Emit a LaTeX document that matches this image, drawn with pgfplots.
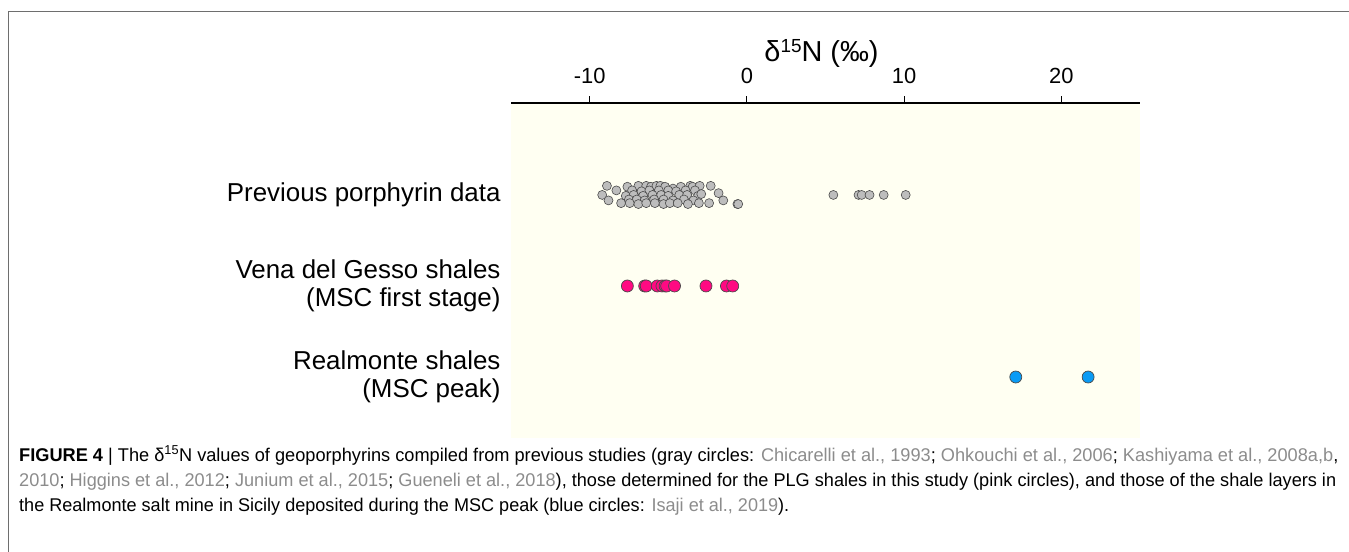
\documentclass[border=0pt]{standalone}
\usepackage{pgfplots}
\pgfplotsset{compat=1.18}
\usepackage{graphicx}
\usepackage{fontspec}
\setmainfont{Liberation Sans}

\definecolor{ivory}{HTML}{FFFFF2}
\definecolor{framegray}{HTML}{6E6E6E}
\definecolor{ptgray}{HTML}{BDBDBD}
\definecolor{ptedge}{HTML}{4A4A4A}
\definecolor{ptpink}{HTML}{FF0A82}
\definecolor{ptblue}{HTML}{0A9BF5}
\definecolor{citegray}{HTML}{8C8C8C}

\newcommand{\refc}[1]{\textcolor{citegray}{#1}}

\begin{document}
\begin{tikzpicture}
\path[use as bounding box] (0,0) rectangle (1349bp,-552bp);
\draw[framegray, line width=1bp] (8bp,-552bp) -- (8bp,-11bp) -- (1349bp,-11bp);

\begin{axis}[
  scale only axis,
  width=629bp, height=335bp,
  at={(511bp,-103bp)}, anchor=north west,
  xmin=-15, xmax=25,
  ymin=0.33, ymax=4.01,
  axis x line=top,
  axis y line=left,
  x axis line style={-, line width=1.4bp},
  y axis line style={draw=none},
  axis background/.style={fill=ivory},
  xtick={-10,0,10,20},
  xticklabels={-10,0,10,20},
  tick align=outside,
  major tick length=7bp,
  xtick style={line width=1.2bp, black},
  xticklabel style={font=\fontsize{22}{26}\selectfont, yshift=9bp},
  xlabel={δ{\fontsize{19}{20}\selectfont\raisebox{9bp}{15}}N (‰)},
  xlabel style={font=\fontsize{29}{32}\selectfont,
    at={(axis description cs:0.5,1)}, anchor=base, yshift=42bp, xshift=-4bp},
  ytick={1,2,3},
  yticklabels={{Realmonte shales\\(MSC peak)},{Vena del Gesso shales\\(MSC first stage)},{Previous porphyrin data}},
  ytick style={draw=none},
  yticklabel style={align=right, font=\fontsize{26}{28.5}\selectfont},
]

% previous porphyrin data (jittered rows)
\addplot[only marks, mark=*, mark size=4.5bp,
  mark options={fill=ptgray, draw=ptedge, line width=0.6bp}] table {
x y
-8.9 3.10
-7.6 3.09
-6.9 3.10
-6.4 3.10
-6.1 3.09
-5.75 3.10
-5.5 3.10
-5.2 3.09
-4.7 3.07
-4.2 3.09
-3.6 3.10
-3.45 3.09
-3.0 3.10
-2.3 3.10
-8.3 3.05
-7.3 3.05
-6.7 3.04
-6.2 3.05
-5.6 3.05
-5.0 3.05
-4.5 3.04
-3.9 3.05
-3.3 3.05
-1.8 3.02
-9.2 3.00
-7.7 2.99
-7.2 3.00
-6.6 2.99
-6.0 3.00
-5.45 3.00
-5.0 2.99
-4.3 3.00
-3.8 3.00
-3.1 2.99
-2.9 3.01
-8.8 2.94
-7.5 2.95
-7.0 2.95
-6.5 2.94
-5.9 2.95
-5.3 2.95
-4.7 2.94
-4.0 2.95
-3.4 2.94
-1.5 2.94
-8.0 2.91
-7.45 2.91
-6.9 2.90
-6.4 2.91
-5.85 2.91
-5.3 2.90
-4.9 2.91
-4.4 2.91
-3.75 2.90
-3.05 2.91
-2.4 2.91
-0.6 2.90
-0.55 2.90
5.5 3.0
7.1 3.0
7.3 3.0
7.8 3.0
8.7 3.0
10.1 3.0
};

% Vena del Gesso shales
\addplot[only marks, mark=*, mark size=6bp,
  mark options={fill=ptpink, draw=ptedge, line width=0.7bp}] table {
x y
-7.6 2
-6.5 2
-6.4 2
-5.7 2
-5.4 2
-5.2 2
-5.1 2
-4.6 2
-2.6 2
-1.3 2
-0.9 2
};

% Realmonte shales
\addplot[only marks, mark=*, mark size=6bp,
  mark options={fill=ptblue, draw=ptedge, line width=0.7bp}] table {
x y
17.1 1
21.7 1
};
\end{axis}

\begin{scope}[every node/.style={anchor=base west, inner sep=0pt,
    font=\fontsize{18.5}{20}\selectfont}]
\node at (19bp,-461bp) {\resizebox{1319bp}{\height}{\textbf{FIGURE 4} | The δ\textsuperscript{15}N values of geoporphyrins compiled from previous studies (gray circles: \refc{Chicarelli et al., 1993}; \refc{Ohkouchi et al., 2006}; \refc{Kashiyama et al., 2008a,b},}};
\node at (19bp,-486bp) {\resizebox{1317bp}{\height}{\refc{2010}; \refc{Higgins et al., 2012}; \refc{Junium et al., 2015}; \refc{Gueneli et al., 2018}), those determined for the PLG shales in this study (pink circles), and those of the shale layers in}};
\node at (19bp,-511bp) {\resizebox{770bp}{\height}{the Realmonte salt mine in Sicily deposited during the MSC peak (blue circles: \refc{Isaji et al., 2019}).}};
\end{scope}
\end{tikzpicture}
\end{document}
